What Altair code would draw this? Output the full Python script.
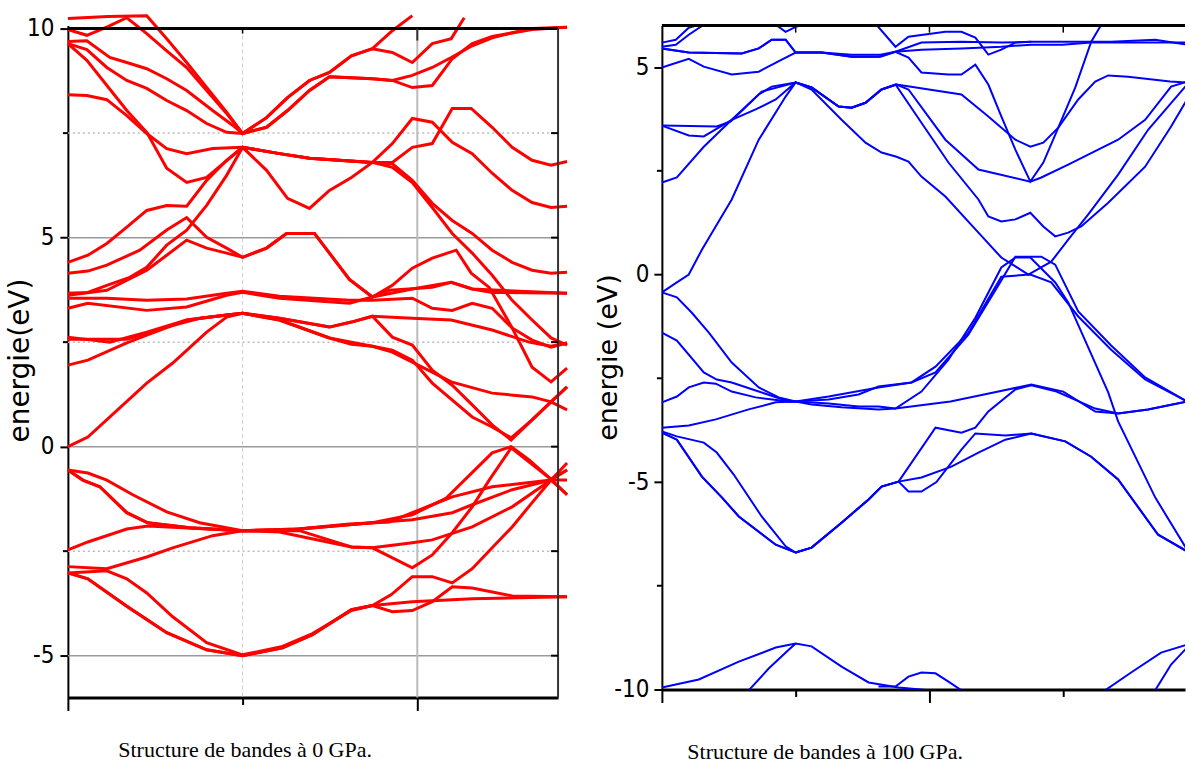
import altair as alt
import pandas as pd

# ---------------- LEFT PANEL : 0 GPa (k along path, E in eV) ----------------
left_top = [
    [[0,10.24],[1.6,10.29],[3.16,10.31],[3.96,9.76],[4.76,9.19],[5.56,8.59],[6.36,8.00],[7,7.49],[7.96,7.87],[8.8,8.35],[9.68,8.76],[10.48,8.95],[11.36,9.35],[12.2,9.52],[13,9.43],[13.8,9.19],[14.6,9.64],[15.36,9.76],[15.88,10.26]],
    [[0,9.98],[0.76,9.84],[1.6,10.05],[2.36,10.26],[3.16,9.88],[3.96,9.47],[4.76,9.07],[5.56,8.52],[6.36,7.97],[7,7.49],[7.96,7.64],[8.8,8.04],[9.68,8.52],[10.48,8.85],[12.2,8.80],[13,8.76],[13.8,8.88],[14.6,9.07],[15.36,9.31],[16.2,9.59],[17,9.78],[17.8,9.90],[18.6,10.0],[20,10.03]],
    [[0,9.69],[0.76,9.71],[1.68,9.31],[2.36,9.19],[3.16,9.04],[3.96,8.80],[4.76,8.52],[5.8,8.04],[6.6,7.69],[7,7.49],[7.96,7.64],[8.8,8.04],[9.68,8.52],[10.48,8.85],[12.2,8.80],[13,8.76],[13.8,8.59],[14.6,8.64],[15.4,9.28],[16.2,9.64],[17,9.81],[18.6,9.98],[20,10.03]],
    [[0,9.64],[0.76,9.50],[1.56,9.07],[2.36,8.76],[3.16,8.57],[3.96,8.28],[4.76,8.04],[5.56,7.73],[6.36,7.52],[7,7.49],[7.96,7.87],[8.8,8.35],[9.68,8.76],[10.48,8.95],[11.36,9.35],[12.2,9.52],[13,9.95],[13.8,10.31]],
    [[0,9.64],[0.76,9.24],[2.36,8.04],[3.16,7.52],[3.96,6.66],[4.76,6.32],[5.56,6.44],[7,7.16],[7.96,6.61],[8.8,5.94],[9.68,5.70],[10.48,6.13],[11.36,6.44],[12.2,6.80],[13,7.25],[13.8,7.85],[14.6,7.76],[15.4,7.28],[16.2,7.01],[17,6.54],[17.8,6.13],[18.6,5.84],[19.36,5.72],[20,5.75]],
    [[0,8.42],[0.76,8.40],[1.56,8.30],[2.36,7.92],[3.16,7.49],[3.96,7.13],[4.76,7.01],[5.8,7.13],[7,7.16],[8.48,7.01],[9.68,6.90],[12.2,6.80],[13,6.80],[13.8,7.16],[14.6,7.25],[15.4,8.09],[16.16,8.09],[17,7.64],[17.8,7.16],[18.6,6.85],[19.36,6.73],[20,6.82]],
]
left_mid = [
    [[0,4.41],[0.8,4.58],[1.56,4.86],[2.36,5.25],[3.16,5.65],[3.96,5.77],[4.76,5.75],[5.56,6.37],[6.36,6.85],[7,7.16],[8.48,7.01],[9.68,6.90],[12.2,6.80],[13,6.77],[13.8,6.37],[14.6,5.82],[15.4,5.41],[16.2,5.10],[17,4.70],[17.8,4.41],[18.6,4.22],[19.36,4.15],[20,4.17]],
    [[0,3.67],[0.8,3.69],[1.56,3.86],[2.48,4.05],[3.16,4.29],[3.96,4.82],[4.76,5.18],[5.56,5.77],[6.36,6.49],[7,7.16],[8.48,7.01],[9.68,6.90],[12.2,6.80],[13,6.68],[13.8,6.32],[14.6,5.72],[15.4,5.10],[16.2,4.63],[17,4.10],[17.8,3.50],[18.6,3.03],[19.36,2.60],[20,2.43]],
    [[0,4.15],[0.8,4.20],[1.56,4.34],[2.88,4.70],[3.96,5.18],[4.76,5.48],[5.56,5.01],[6.36,4.75],[7,4.53],[7.96,4.75],[8.76,5.10],[9.88,5.10],[11.28,4.0],[12.2,3.58],[12.88,3.74],[14.6,3.81],[15.36,3.93],[16.2,3.77],[17,3.69],[20,3.67]],
    [[0,3.62],[1.56,3.74],[3.16,4.22],[3.96,4.58],[4.76,4.94],[5.56,4.75],[6.36,4.63],[7,4.53],[7.96,4.75],[8.76,5.10],[9.88,5.10],[11.28,4.0],[12.2,3.58],[13,3.86],[13.8,4.27],[14.6,4.51],[15.56,4.70],[16.16,4.15],[16.88,3.81],[17.8,2.84],[18.6,1.90],[19.36,1.55],[20,1.88]],
    [[0,3.31],[0.8,3.43],[3.16,3.26],[4.76,3.34],[6.36,3.62],[7,3.69],[8.48,3.55],[11.28,3.43],[12.2,3.58],[13.8,3.77],[15.36,3.93],[16.2,3.77],[20,3.67]],
    [[0,3.55],[1.56,3.55],[3.16,3.50],[4.76,3.53],[6.36,3.67],[7,3.72],[8.48,3.60],[11.28,3.50],[12.2,3.50],[13.8,3.55],[14.6,3.31],[15.4,3.26],[16.2,3.43],[17,3.31],[17.8,2.84],[18.6,2.55],[19.36,2.38],[20,2.48]],
]
left_low = [
    [[0,0],[0.8,0.23],[3.16,1.52],[4.2,2.0],[5.56,2.74],[6.36,3.10],[7,3.19],[8.48,3.07],[10.48,2.86],[11.36,2.98],[12.2,3.12],[13.8,3.07],[15.36,3.03],[17,2.79],[18.48,2.50],[19.36,2.40],[20,2.48]],
    [[0,1.95],[0.8,2.07],[2.36,2.48],[3.16,2.67],[4.76,3.03],[6.36,3.15],[7,3.19],[8.48,3.03],[10.48,2.60],[11.36,2.45],[12.2,2.40],[13,2.26],[13.8,2.02],[15.36,1.55],[17,1.28],[18.6,1.19],[19.36,1.07],[20,0.88]],
    [[0,2.62],[1.68,2.50],[3.16,2.74],[4.76,3.03],[6.36,3.15],[7,3.19],[8.48,3.07],[10.48,2.86],[11.36,2.98],[12.2,3.12],[13,2.62],[13.8,2.43],[14.6,1.83],[15.4,1.47],[16.2,1.00],[17,0.52],[17.76,0.16],[18.6,0.64],[19.36,1.07],[20,1.43]],
    [[0,2.57],[2.36,2.57],[3.96,2.86],[5.28,3.07],[7,3.19],[8.48,3.03],[10.48,2.60],[12.2,2.40],[13,2.31],[13.8,2.07],[14.6,1.52],[16.2,0.71],[17,0.47],[17.76,0.21],[18.6,0.64],[19.36,1.07],[20,1.43]],
]
left_valence = [
    [[0,-3.02],[0.8,-3.16],[2.36,-3.82],[3.96,-4.45],[5.56,-4.86],[7,-5.0],[8.6,-4.81],[9.8,-4.50],[11.36,-3.90],[12.2,-3.80],[13.8,-3.71],[16.2,-3.64],[20,-3.59]],
    [[0,-3.02],[1.56,-2.97],[2.36,-3.16],[3.16,-3.50],[4.2,-4.07],[5.56,-4.69],[7,-4.98],[8.6,-4.78],[9.8,-4.47],[11.36,-3.92],[12.2,-3.80],[13,-3.95],[13.8,-3.92],[14.6,-3.71],[15.4,-3.35],[16.2,-3.38],[17.8,-3.57],[20,-3.59]],
    [[0,-3.02],[0.8,-3.16],[2.36,-3.82],[3.96,-4.45],[5.56,-4.86],[7,-5.0],[8.6,-4.81],[9.8,-4.50],[11.36,-3.90],[12.2,-3.80],[12.96,-3.54],[13.8,-3.11],[14.6,-3.11],[15.4,-3.26],[16.2,-2.92],[17,-2.42],[17.8,-1.92],[18.6,-1.34],[19.36,-0.80],[20,-0.39]],
    [[0,-2.87],[1.56,-2.92],[3.16,-2.64],[4.2,-2.42],[5.8,-2.13],[7,-2.01],[8.48,-2.04],[11.36,-2.40],[12.2,-2.42],[13.8,-2.30],[14.6,-2.23],[16.2,-1.92],[17.8,-1.44],[19.36,-0.80],[20,-0.56]],
    [[0,-2.47],[0.8,-2.28],[2.36,-1.97],[3.2,-1.90],[7,-2.01],[8.48,-2.01],[11.28,-1.85],[12.88,-1.80],[13.8,-1.58],[14.6,-1.39],[15.4,-1.20],[17,-0.96],[19.36,-0.80],[20,-0.80]],
    [[0,-0.56],[0.6,-0.80],[1.28,-0.96],[2.36,-1.58],[3.2,-1.82],[4.88,-1.94],[7,-2.01],[9.28,-1.97],[12.2,-1.82],[13.8,-1.75],[15.4,-1.58],[16.2,-1.39],[17.8,-1.03],[19.36,-0.80],[20,-1.15]],
    [[0,-0.56],[0.8,-0.63],[1.56,-0.80],[2.6,-1.15],[3.96,-1.56],[5.28,-1.82],[7,-2.01],[9.28,-2.01],[11.36,-2.40],[12.2,-2.42],[13.8,-2.90],[14.6,-2.59],[15.4,-2.06],[16.2,-1.44],[16.88,-0.80],[17.76,-0.03],[19.36,-0.78],[20,-1.15]],
    [[0,-0.56],[0.6,-0.80],[1.28,-0.96],[2.36,-1.58],[3.2,-1.82],[4.88,-1.94],[7,-2.01],[9.28,-1.97],[12.2,-1.82],[13.8,-1.63],[15.16,-1.23],[17,-0.15],[17.76,0.0],[18.48,-0.32],[19.36,-0.78],[20,-0.56]],
]

# ---------------- RIGHT PANEL : 100 GPa ----------------
right_deep = [
    [[0,-9.95],[2.76,-9.76],[5.75,-9.33],[8.51,-8.99],[10,-8.89],[11.19,-8.96],[13.43,-9.45],[15.45,-9.83],[17.69,-9.95],[19.93,-10.02],[20.67,-10.12]],
    [[6.49,-10.02],[8.0,-9.49],[9.48,-9.04],[10,-8.89]],
    [[16.19,-9.93],[17.46,-9.93],[18.43,-9.69],[19.4,-9.59],[20.45,-9.61],[21.42,-9.81],[22.39,-10.02]],
    [[33.13,-10.02],[35.07,-9.59],[37.31,-9.11],[39.25,-8.92]],
    [[36.87,-10.02],[38.06,-9.40],[39.25,-8.99]],
]
right_valence = [
    [[0,-3.78],[1.12,-3.90],[3.13,-4.05],[4.1,-4.29],[5.37,-4.82],[7.46,-5.83],[9.25,-6.55],[10,-6.70],[11.19,-6.58],[13.43,-5.98],[15.45,-5.42],[16.42,-5.11],[17.69,-4.99],[19.4,-4.89],[21.64,-4.63],[23.66,-4.29],[25.67,-3.98],[27.61,-3.83],[30.15,-4.02],[32.09,-4.39],[34.1,-4.94],[37.09,-6.27],[39.25,-6.67]],
    [[0,-3.81],[1.12,-3.98],[2.99,-4.87],[4.48,-5.37],[5.75,-5.83],[8.51,-6.51],[10,-6.70],[11.19,-6.58],[13.43,-5.98],[15.45,-5.42],[16.42,-5.11],[17.69,-4.99],[18.43,-5.23],[19.4,-5.23],[20.52,-5.0],[22.39,-4.22],[23.43,-3.83],[25.67,-3.88],[27.61,-3.83],[30.15,-4.02],[32.09,-4.39],[34.1,-4.94],[37.09,-6.27],[39.25,-6.67]],
    [[0,-3.81],[1.12,-3.98],[2.99,-4.87],[4.48,-5.37],[5.75,-5.83],[8.51,-6.51],[10,-6.70],[11.19,-6.58],[13.43,-5.98],[15.45,-5.42],[16.42,-5.11],[17.69,-4.99],[20.45,-3.69],[22.39,-3.81],[23.43,-3.69],[24.4,-3.30],[26.42,-2.77],[27.61,-2.67],[29.5,-2.82],[32.39,-3.23],[34.1,-3.35],[36.34,-3.25],[39.25,-3.06]],
    [[0,-0.43],[1.12,-0.55],[2.24,-0.92],[3.51,-1.40],[5.22,-2.12],[7.24,-2.72],[8.73,-2.96],[10,-3.06],[12.46,-3.01],[14.7,-2.89],[16.19,-2.70],[18.66,-2.60],[20.45,-2.22],[22.91,-1.40],[25.37,-0.05],[27.54,0],[29.1,-0.19],[31.12,-1.01],[33.58,-1.81],[36.12,-2.53],[39.25,-3.06]],
    [[0,-1.40],[1.12,-1.59],[3.13,-2.36],[4.1,-2.53],[5.22,-2.60],[7.24,-2.82],[9.48,-3.06],[10,-3.06],[12.46,-3.11],[14.7,-3.18],[16.19,-3.18],[17.46,-3.23],[21.57,-3.06],[25.15,-2.82],[27.61,-2.65],[30,-2.82],[32.39,-3.30],[34.1,-3.35],[36.34,-3.25],[39.25,-3.06]],
    [[0,-3.08],[1.12,-2.94],[2.01,-2.72],[3.13,-2.60],[4.03,-2.63],[5.22,-2.82],[7.01,-2.96],[9.48,-3.06],[10,-3.06],[12.46,-2.94],[16.19,-2.72],[18.66,-2.60],[20.45,-2.36],[22.91,-1.45],[25.37,-0.14],[26.42,0.43],[28.36,0.43],[29.4,0.24],[31.12,-0.89],[33.58,-1.71],[36.12,-2.48],[39.25,-3.06]],
    [[0,-3.69],[2.01,-3.64],[4.03,-3.49],[6.49,-3.25],[8.51,-3.08],[10,-3.06],[11.19,-3.13],[13.43,-3.20],[16.19,-3.25],[17.46,-3.23],[19.4,-2.82],[21.42,-2.05],[23.43,-1.04],[25.37,0.17],[26.42,0.41],[27.54,0.41],[29.4,-0.19],[30.37,-0.67],[33.36,-2.84],[34.1,-3.54],[36.87,-5.37],[39.25,-6.63]],
]
right_conduction = [
    [[0,-0.43],[1.12,-0.19],[2.01,0],[2.99,0.60],[5.22,1.81],[7.24,3.25],[9.25,4.29],[10,4.63],[11.19,4.46],[13.43,3.73],[15.22,3.18],[16.42,2.94],[17.54,2.84],[18.43,2.72],[19.4,2.36],[21.19,1.88],[23.66,1.01],[25.37,0.41],[27.39,0.0],[29.1,0.31],[30.37,0.84],[31.87,1.45],[34.1,2.41],[36.34,3.49],[39.25,4.58]],
    [[0,2.22],[1.12,2.34],[3.13,3.08],[5.22,3.73],[7.46,4.41],[10,4.63],[11.19,4.51],[13.21,4.05],[14.18,4.02],[15.22,4.14],[16.42,4.46],[17.54,4.58],[22.39,4.34],[24.4,3.81],[26.42,3.25],[27.54,3.08],[28.51,3.18],[29.63,3.54],[31.12,4.22],[32.39,4.65],[33.36,4.80],[34.85,4.77],[37.99,4.65],[39.25,4.63]],
    [[0,3.59],[4.1,3.57],[5.15,3.69],[7.24,4.34],[8.21,4.53],[10,4.63],[11.19,4.51],[13.21,4.05],[14.18,4.02],[15.22,4.14],[16.42,4.46],[17.54,4.58],[18.43,4.46],[21.19,3.25],[23.66,2.53],[27.54,2.24],[28.36,2.34],[30.37,2.65],[34.1,3.25],[36.12,3.73],[38.06,4.53],[39.25,4.65]],
    [[0,3.59],[2.01,3.35],[3.13,3.33],[5.22,3.73],[7.01,3.98],[8.51,4.22],[10,4.63],[11.19,4.51],[13.21,4.05],[14.18,4.02],[15.22,4.14],[16.42,4.46],[17.46,4.58],[19.4,3.66],[21.42,2.70],[23.66,1.81],[24.4,1.40],[25.37,1.28],[26.42,1.33],[27.54,1.49],[28.51,1.16],[29.4,0.92],[30.37,1.01],[31.34,1.16],[33.36,1.73],[36.12,2.60],[38.06,3.57],[39.25,4.22]],
]
right_top = [
    [[0,5.45],[2.01,5.35],[5.97,5.33],[7.24,5.45],[8.21,5.66],[9.25,5.66],[10,5.35],[11.94,5.35],[14.18,5.25],[16.34,5.25],[17.46,5.37],[19.4,5.59],[22.39,5.61],[25.37,5.59],[27.61,5.61],[29.93,5.61],[33.58,5.61],[36.87,5.66],[39.25,5.54]],
    [[0,5.45],[2.01,5.35],[5.97,5.33],[7.24,5.45],[8.21,5.66],[9.25,5.66],[10,5.35],[11.94,5.35],[14.18,5.25],[16.19,5.25],[17.46,5.37],[18.43,5.23],[19.4,4.87],[21.42,4.82],[22.39,4.82],[23.43,5.06],[24.4,4.58],[25.37,3.81],[26.42,3.01],[27.54,2.24],[28.51,2.70],[29.63,3.54],[30.9,4.51],[32.09,5.61],[32.84,6.02]],
    [[0,4.99],[2.01,5.20],[3.13,5.01],[5.22,4.82],[7.24,4.89],[8.96,5.18],[10,5.35],[11.94,5.35],[14.18,5.30],[16.34,5.30],[17.46,5.37],[19.4,5.42],[22.39,5.45],[25.37,5.49],[27.61,5.54],[29.93,5.54],[32.09,5.59],[39.25,5.59]],
    [[0,5.59],[1.04,5.66],[2.01,5.95],[2.76,6.02]],
    [[0,5.49],[1.04,5.54],[2.01,5.78],[3.13,6.02]],
    [[8.51,6.02],[9.25,5.85],[10,5.97],[10.6,6.02]],
    [[16.04,6.02],[17.46,5.49],[18.43,5.73],[21.19,5.85],[22.39,5.85],[23.43,5.71],[24.4,5.30],[25.37,5.42],[26.42,5.59],[27.61,5.61]],
]

# axis ticks / guide values
left_major = [-5, 0, 5, 10]
left_minor = [-2.5, 2.5, 7.5]
left_sym = [0, 7, 14]
right_major = [-10, -5, 0, 5]
right_minor = [-7.5, -2.5, 2.5]
right_sym = [0, 10, 20, 30]

LW, LH = 491, 673
RW, RH = 524, 665
L_XDOM = [0, 19.64]
L_YDOM = [-6, 10.072]
R_XDOM = [0, 39.1]
R_YDOM = [-10, 6.0]

NARROW = "Liberation Sans Narrow, Arial Narrow, DejaVu Sans Condensed, Liberation Sans, sans-serif"
WIDE = "DejaVu Sans, Verdana, sans-serif"
SERIF = "Liberation Serif, Times New Roman, serif"


def frame(groups):
    rows = []
    for gname, bands in groups:
        for bi, pts in enumerate(bands):
            for j, (k, e) in enumerate(pts):
                rows.append({"band": f"{gname}{bi}", "ord": j, "k": k, "E": e})
    return pd.DataFrame(rows)


left_df = frame([("t", left_top), ("m", left_mid), ("l", left_low), ("v", left_valence)])
right_df = frame([("d", right_deep), ("v", right_valence), ("c", right_conduction), ("t", right_top)])

# ---------- left encodings ----------
lx_axis = alt.Axis(values=left_sym, labels=False, grid=False, domainColor="black", domainWidth=3,
                   tickColor="black", tickWidth=2,
                   tickSize={"condition": {"test": "datum.value == 7", "value": 7}, "value": 13},
                   title="Structure de bandes à 0 GPa.", titleFont=SERIF, titleFontSize=22,
                   titleFontWeight="normal", titleColor="black", titleX=50, titleY=52,
                   titleAlign="left", titleBaseline="middle")
ly_axis = alt.Axis(values=left_major, grid=False, domainColor="black", domainWidth=2,
                   tickColor="black", tickWidth=2, tickSize=8, labelFont=NARROW, labelFontSize=24,
                   labelColor="black", labelPadding=6, labelExpr="datum.value + ''",
                   title="energie(eV)", titleFont=WIDE, titleFontSize=28, titleFontWeight="normal",
                   titleColor="black", titleX=-47, titleY=335, titleAngle=270,
                   titleAlign="center", titleBaseline="middle")
LX = alt.X("k:Q", scale=alt.Scale(domain=L_XDOM, nice=False, zero=False), axis=lx_axis)
LY = alt.Y("E:Q", scale=alt.Scale(domain=L_YDOM, nice=False, zero=False), axis=ly_axis)

hsolid = alt.Chart(pd.DataFrame({"E": [-5, 0, 5]})).mark_rule(color="#999999", strokeWidth=1.5).encode(
    y=LY, x=alt.value(0), x2=alt.value(LW))
hdot = alt.Chart(pd.DataFrame({"E": left_minor})).mark_rule(color="#bbbbbb", strokeWidth=1.5, strokeDash=[2, 3]).encode(
    y=LY, x=alt.value(0), x2=alt.value(LW))
vdash = alt.Chart(pd.DataFrame({"k": [7]})).mark_rule(color="#cccccc", strokeWidth=1, strokeDash=[4, 3]).encode(
    x=LX, y=alt.value(3), y2=alt.value(LH))
vsolid = alt.Chart(pd.DataFrame({"k": [14]})).mark_rule(color="#bbbbbb", strokeWidth=2).encode(
    x=LX, y=alt.value(3), y2=alt.value(LH))

left_lines = alt.Chart(left_df).mark_line(color="#ff0000", strokeWidth=3, clip=False).encode(
    x=LX, y=LY, detail="band:N", order="ord:Q")

top_border = alt.Chart(pd.DataFrame({"E": [10]})).mark_rule(color="black", strokeWidth=3).encode(
    y=LY, x=alt.value(0), x2=alt.value(LW))
right_border = alt.Chart(pd.DataFrame({"k": [L_XDOM[1]]})).mark_rule(color="#333333", strokeWidth=2).encode(
    x=LX, y=alt.value(3), y2=alt.value(LH))
lminor = alt.Chart(pd.DataFrame({"E": left_minor})).mark_rule(color="black", strokeWidth=2).encode(
    y=LY, x=alt.value(-5), x2=alt.value(0))
rticks = alt.Chart(pd.DataFrame({"E": [-5, -2.5, 0, 2.5, 5, 7.5]})).mark_rule(color="black", strokeWidth=2).encode(
    y=LY, x=alt.value(LW - 7), x2=alt.value(LW))
ttick1 = alt.Chart(pd.DataFrame({"k": [7]})).mark_rule(color="black", strokeWidth=1.5).encode(
    x=LX, y=alt.value(3), y2=alt.value(8))
ttick2 = alt.Chart(pd.DataFrame({"k": [14]})).mark_rule(color="#333333", strokeWidth=2).encode(
    x=LX, y=alt.value(3), y2=alt.value(15))

left = alt.layer(hsolid, hdot, vdash, vsolid, left_lines, top_border, right_border,
                 lminor, rticks, ttick1, ttick2).properties(width=LW, height=LH)

# ---------- right encodings ----------
rx_axis = alt.Axis(values=right_sym, labels=False, grid=False, domainColor="black", domainWidth=3,
                   tickColor="black", tickWidth=2,
                   tickSize={"condition": {"test": "datum.value == 10 || datum.value == 30", "value": 7}, "value": 13},
                   title="Structure de bandes à 100 GPa.", titleFont=SERIF, titleFontSize=22,
                   titleFontWeight="normal", titleColor="black", titleX=25, titleY=62,
                   titleAlign="left", titleBaseline="middle")
ry_axis = alt.Axis(values=right_major, grid=False, domainColor="black", domainWidth=2,
                   tickColor="black", tickWidth=2, tickSize=8, labelFont=NARROW, labelFontSize=24,
                   labelColor="black", labelPadding=5, labelExpr="datum.value + ''",
                   title="energie (eV)", titleFont=WIDE, titleFontSize=27, titleFontWeight="normal",
                   titleColor="black", titleX=-53, titleY=332, titleAngle=270,
                   titleAlign="center", titleBaseline="middle")
RX = alt.X("k:Q", scale=alt.Scale(domain=R_XDOM, nice=False, zero=False), axis=rx_axis)
RY = alt.Y("E:Q", scale=alt.Scale(domain=R_YDOM, nice=False, zero=False), axis=ry_axis)

right_lines = alt.Chart(right_df).mark_line(color="#0000ff", strokeWidth=2, clip=True).encode(
    x=RX, y=RY, detail="band:N", order="ord:Q")
r_top_border = alt.Chart(pd.DataFrame({"E": [6]})).mark_rule(color="black", strokeWidth=3).encode(
    y=RY, x=alt.value(0), x2=alt.value(RW))
r_minor = alt.Chart(pd.DataFrame({"E": right_minor})).mark_rule(color="black", strokeWidth=2).encode(
    y=RY, x=alt.value(-5), x2=alt.value(0))
r_ttick = alt.Chart(pd.DataFrame({"k": [10, 20, 30]})).mark_rule(color="black", strokeWidth=1.5).encode(
    x=RX, y=alt.value(0), y2=alt.value(7))

right = alt.layer(right_lines, r_top_border, r_minor, r_ttick).properties(width=RW, height=RH)

chart = alt.hconcat(left, right, spacing=104, bounds="flush").properties(
    padding={"left": 7, "top": 9, "right": 2, "bottom": 2}
).configure_view(stroke=None)

chart.save("out.html", embed_options={"renderer": "svg", "actions": False})
